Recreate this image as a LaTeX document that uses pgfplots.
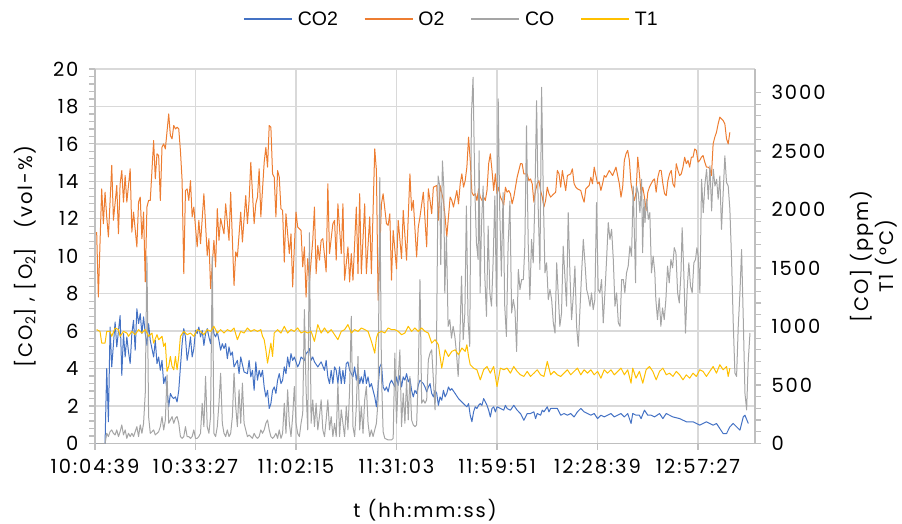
\documentclass[border=0pt]{standalone}
\usepackage{fontspec}
\setmainfont{Poppins}
\newfontfamily\tickfam{Poppins}[LetterSpace=10]
\newfontfamily\legfont{Liberation Sans}
\usepackage{pgfplots}
\pgfplotsset{compat=1.18}
\definecolor{cCOtwo}{HTML}{4472C4}
\definecolor{cOtwo}{HTML}{ED7D31}
\definecolor{cCO}{HTML}{A5A5A5}
\definecolor{cT}{HTML}{FFC000}
\definecolor{cgrid}{HTML}{D9D9D9}
\definecolor{caxis}{HTML}{BFBFBF}
\newcommand\tickfont{\tickfam\fontsize{19.5bp}{25bp}\selectfont}
\pgfplotsset{base/.style={scale only axis, width=660bp, height=374.5bp, xmin=0, xmax=394,
  /pgf/number format/assume math mode=true, /pgf/number format/1000 sep={},
  tick label style={font=\tickfont}, label style={font=\tickfont},
  tick align=outside, major tick length=6bp, minor tick length=6bp,
  tick style={caxis, line width=1.2bp}, minor tick style={caxis, line width=1.2bp},
  axis line style={caxis, line width=1.3bp, -},
  every axis plot/.append style={line width=1bp, no markers, line join=round}}}
\begin{document}
\begin{tikzpicture}
\path[use as bounding box] (-95bp,-80.5bp) rectangle (807bp,443.5bp);
\begin{axis}[base, ymin=0, ymax=20, ytick={0,2,...,20}, minor y tick num=4,
  axis x line*=bottom, axis y line*=left,
  xtick={0,60,...,360}, xticklabels={10:04:39,10:33:27,11:02:15,11:31:03,11:59:51,12:28:39,12:57:27},
  xticklabel style={yshift=-6bp},
  yticklabel style={xshift=-7bp},
  grid=major, major grid style={cgrid, line width=1.3bp},
  ylabel={[CO\textsubscript{2}] , [O\textsubscript{2}]\quad(vol-\%)},
  ylabel style={at={(axis description cs:-0.106,0.5)}, anchor=center},
  xlabel={t (hh:mm:ss)},
  xlabel style={at={(axis description cs:0.5,-0.178)}, anchor=center},
  legend style={font=\legfont\fontsize{19.5bp}{22bp}\selectfont, draw=none, fill=none, legend columns=4,
    at={(0.540,1.133)}, anchor=center,
    /tikz/every odd column/.append style={column sep=3bp},
    /tikz/every even column/.append style={column sep=24bp}},
]
\addlegendimage{legend image code/.code={\draw[draw=cCOtwo, line width=1.6bp] (0bp,0bp) -- (48bp,0bp);}}
\addlegendentry{CO2}
\addlegendimage{legend image code/.code={\draw[draw=cOtwo, line width=1.6bp] (0bp,0bp) -- (48bp,0bp);}}
\addlegendentry{O2}
\addlegendimage{legend image code/.code={\draw[draw=cCO, line width=1.6bp] (0bp,0bp) -- (48bp,0bp);}}
\addlegendentry{CO}
\addlegendimage{legend image code/.code={\draw[draw=cT, line width=1.6bp] (0bp,0bp) -- (48bp,0bp);}}
\addlegendentry{T1}
\addplot[cCOtwo, forget plot] coordinates {(1,0)(3,0)(6,0)(7,4.0)(8,1.16)(9,6.22)(10,4.09)(12,6.49)(13,5.16)(15,6.84)(16,3.64)(17,5.87)(18,4.62)(19,5.69)(20,4.89)(21,4.27)(22,5.87)(23,6.58)(24,4.98)(25,7.2)(26,6.4)(27,6.93)(28,5.87)(29,6.76)(30,5.87)(31,5.24)(32,6.4)(33,5.51)(34,5.07)(35,4.62)(36,5.51)(37,4.27)(38,4.62)(39,3.91)(40,4.44)(41,3.2)(42,3.56)(43,2.84)(44,1.96)(45,2.67)(46,2.49)(47,2.4)(48,2.49)(49,2.22)(50,2.84)(51,4.09)(52,5.33)(53,6.13)(54,5.69)(55,4.44)(56,4.98)(57,5.69)(58,4.62)(59,5.07)(60,6.04)(61,5.87)(62,6.22)(63,5.69)(64,6.04)(65,5.24)(66,5.87)(67,6.13)(68,5.69)(69,5.33)(70,6.4)(71,5.87)(72,5.69)(73,5.96)(74,5.51)(75,4.98)(76,5.33)(77,5.07)(78,5.33)(79,4.53)(80,5.16)(81,4.71)(82,4.89)(83,4.09)(85,4.44)(86,3.73)(87,4.62)(89,3.82)(91,3.73)(92,4.44)(93,3.56)(94,3.91)(95,2.84)(96,4.36)(97,3.38)(98,3.91)(99,3.56)(100,3.91)(101,3.02)(102,2.49)(103,2.84)(104,1.87)(105,2.13)(106,2.84)(107,3.02)(108,2.67)(109,3.38)(110,3.73)(111,3.2)(112,3.38)(113,4.09)(114,3.73)(115,4.62)(116,4.09)(117,4.8)(118,4.44)(119,4.62)(121,4.09)(122,4.27)(123,4.62)(125,4.44)(126,4.8)(127,4.89)(128,5.07)(129,4.44)(130,4.62)(131,4.36)(133,4.09)(135,4.36)(137,3.91)(138,4.44)(139,3.56)(140,3.2)(141,3.91)(142,3.2)(143,4.09)(144,3.91)(145,3.2)(146,4.09)(147,3.2)(148,3.91)(149,3.2)(150,4.27)(151,4.36)(152,3.91)(153,3.73)(154,3.56)(155,4.09)(156,3.38)(157,3.91)(158,3.2)(159,3.56)(160,3.2)(161,3.91)(162,3.2)(163,3.56)(164,3.02)(165,3.2)(166,2.84)(167,2.49)(168,1.96)(169,3.02)(170,4.09)(171,4.27)(172,3.02)(173,2.84)(174,3.02)(175,2.76)(176,3.2)(177,3.38)(179,3.02)(180,3.56)(181,3.11)(182,3.64)(183,3.02)(184,3.56)(185,3.38)(186,3.73)(187,3.29)(188,3.47)(189,2.84)(190,2.49)(191,2.84)(192,2.67)(193,3.11)(194,3.38)(195,3.29)(196,3.2)(197,3.02)(198,2.76)(199,3.02)(200,3.2)(201,2.67)(202,2.49)(203,2.84)(204,2.67)(205,2.04)(206,2.49)(207,2.31)(208,2.84)(209,2.49)(210,2.67)(211,3.02)(212,2.84)(213,2.93)(215,2.67)(217,2.4)(219,2.22)(221,2.04)(222,1.96)(223,2.13)(224,1.51)(225,1.16)(226,1.69)(227,1.96)(228,1.87)(229,2.04)(230,2.13)(231,2.04)(232,2.4)(233,2.22)(234,2.04)(235,1.78)(236,1.42)(237,1.87)(238,1.96)(239,1.69)(240,1.96)(242,1.87)(244,1.78)(245,2.04)(246,1.87)(248,1.78)(250,2.04)(252,1.78)(254,1.6)(256,1.24)(258,1.6)(260,1.6)(262,1.69)(263,1.33)(264,1.6)(266,1.51)(267,1.78)(268,1.69)(270,1.96)(271,1.69)(272,1.87)(274,1.87)(276,1.87)(278,1.51)(280,1.6)(282,1.51)(284,1.6)(286,1.42)(288,1.69)(290,1.87)(292,1.69)(294,1.6)(296,1.51)(298,1.6)(300,1.33)(302,1.51)(304,1.42)(306,1.51)(308,1.6)(310,1.42)(312,1.51)(314,1.6)(316,1.42)(318,1.6)(320,1.07)(321,1.6)(323,1.51)(325,1.51)(326,1.33)(328,1.78)(330,1.51)(332,1.51)(334,1.42)(337,1.6)(339,1.33)(341,1.6)(345,1.42)(349,1.33)(353,1.16)(357,1.16)(361,0.98)(365,1.16)(369,0.98)(371,1.07)(373,0.8)(375,0.53)(377,0.53)(379,0.89)(381,1.07)(383,0.89)(385,0.71)(387,1.42)(388,1.51)(390,1.07)};
\addplot[cOtwo, forget plot] coordinates {(1,11.29)(2,7.82)(4,13.6)(5,11.74)(6,13.42)(7,12.1)(8,11.03)(10,14.85)(11,11.92)(13,13.78)(14,11.2)(15,13.87)(16,14.58)(17,12.89)(18,14.31)(19,12.89)(21,14.67)(22,11.29)(23,12.36)(25,10.5)(26,12.89)(27,13.16)(28,10.94)(29,12.36)(30,8.63)(31,12.63)(32,12.98)(33,12.98)(35,16.18)(36,14.13)(37,15.47)(38,15.38)(39,12.98)(40,15.82)(41,16.0)(42,15.73)(44,17.6)(45,16.44)(46,16.27)(47,16.98)(48,16.8)(49,16.89)(50,16.8)(51,15.64)(52,14.04)(53,9.07)(54,13.51)(55,13.6)(56,12.98)(57,14.04)(58,12.1)(59,12.63)(61,10.5)(62,11.92)(63,10.67)(65,13.34)(67,10.05)(68,10.94)(69,8.27)(71,10.85)(72,9.43)(73,12.54)(74,10.85)(75,12.01)(77,11.2)(78,12.8)(80,10.85)(81,13.42)(83,8.44)(84,10.23)(85,9.96)(87,12.36)(88,10.76)(90,13.24)(91,11.74)(92,12.98)(93,15.02)(95,11.74)(96,12.8)(97,13.16)(98,14.67)(99,12.1)(101,15.02)(102,15.82)(103,14.76)(104,16.98)(105,16.89)(106,14.4)(107,14.22)(108,12.1)(109,14.58)(110,14.22)(111,12.54)(112,12.45)(113,9.69)(114,12.27)(116,10.14)(117,11.2)(118,8.36)(119,10.5)(120,12.36)(121,11.56)(123,11.38)(124,9.43)(125,10.5)(126,7.82)(127,9.87)(128,8.63)(130,10.85)(131,12.63)(132,9.07)(133,10.58)(134,9.79)(135,10.85)(136,10.94)(138,9.16)(139,13.87)(140,10.14)(142,11.74)(143,11.92)(144,9.79)(145,12.8)(147,10.14)(148,12.8)(149,8.72)(151,10.5)(152,8.63)(153,10.14)(154,8.72)(156,12.63)(157,9.07)(158,13.34)(159,9.07)(161,12.8)(162,9.07)(164,12.1)(165,9.07)(167,15.73)(168,14.58)(169,7.65)(171,12.8)(172,13.34)(174,11.74)(175,11.65)(176,12.27)(177,8.72)(178,11.38)(180,9.33)(181,11.92)(183,9.87)(184,12.45)(186,9.79)(188,14.4)(189,12.45)(190,12.98)(192,9.96)(193,11.56)(194,12.1)(196,13.42)(198,10.5)(199,13.6)(200,12.98)(201,12.27)(202,13.69)(204,13.78)(205,11.92)(206,13.78)(208,12.98)(209,12.1)(210,11.03)(212,13.16)(213,12.98)(214,12.63)(216,13.51)(217,12.8)(218,13.87)(219,14.4)(220,13.69)(221,14.04)(222,14.76)(223,16.36)(224,15.12)(225,13.42)(226,13.24)(227,13.34)(228,12.98)(229,13.6)(230,13.16)(231,12.98)(232,13.16)(233,12.98)(234,13.51)(235,14.94)(236,15.47)(237,14.58)(238,13.51)(239,14.4)(240,13.34)(241,13.69)(242,13.16)(243,12.98)(244,12.72)(245,13.69)(246,13.42)(247,13.51)(248,13.34)(249,12.8)(250,13.16)(252,14.22)(254,14.94)(255,14.94)(256,14.4)(258,14.4)(259,14.04)(260,14.13)(261,13.87)(262,12.89)(263,13.51)(264,13.87)(265,14.04)(266,13.51)(267,13.16)(268,12.63)(269,12.98)(270,13.69)(271,13.34)(272,13.16)(274,13.34)(275,13.42)(276,14.58)(277,14.4)(278,13.69)(279,14.58)(280,14.04)(281,13.51)(282,14.31)(284,14.4)(285,14.67)(286,13.87)(287,13.69)(288,13.6)(290,13.51)(291,13.16)(292,12.89)(293,13.6)(294,13.69)(295,13.78)(296,14.22)(297,13.87)(298,14.76)(299,14.31)(300,13.87)(301,13.96)(302,13.51)(303,13.87)(304,14.31)(305,14.22)(307,14.58)(309,14.31)(311,14.76)(313,13.87)(314,13.16)(315,13.69)(316,15.12)(317,15.47)(318,15.65)(319,15.12)(320,13.87)(321,13.34)(322,12.98)(323,13.42)(324,15.29)(325,14.4)(326,13.34)(327,13.69)(328,13.16)(329,12.45)(330,13.42)(331,13.69)(332,13.87)(333,14.04)(334,14.13)(335,13.42)(336,14.22)(337,14.58)(338,14.58)(339,13.87)(340,13.34)(341,13.24)(342,14.04)(343,14.4)(344,14.58)(345,13.87)(346,13.69)(347,14.94)(348,14.58)(349,14.31)(350,14.4)(351,14.76)(352,15.29)(353,14.94)(354,15.12)(355,14.76)(356,15.29)(357,15.29)(358,15.73)(359,15.65)(360,15.03)(361,15.12)(362,15.29)(363,15.38)(364,15.03)(365,14.76)(366,14.76)(367,14.67)(368,14.31)(369,16.0)(370,16.36)(371,16.62)(372,17.07)(373,17.43)(374,17.34)(375,17.25)(376,17.07)(377,16.27)(378,16.0)(379,16.62)};
\end{axis}
\begin{axis}[base, ymin=0, ymax=3200, ytick={0,500,...,3000}, minor y tick num=4,
  axis y line*=right, axis x line=none,
  yticklabel style={xshift=7bp},
  ylabel={[CO] (ppm)\\T1 (°C)},
  ylabel style={align=center, at={(axis description cs:1.18,0.5)}, anchor=center},
]
\addplot[cCO] coordinates {(1,0)(6,0)(7,87)(8,59)(9,101)(10,116)(11,87)(12,73)(13,116)(14,59)(15,101)(16,159)(17,73)(18,116)(19,44)(20,87)(21,59)(22,87)(23,59)(24,101)(25,144)(26,59)(27,159)(28,87)(29,173)(30,430)(31,1600)(32,230)(33,87)(34,100)(35,116)(36,73)(37,87)(38,101)(39,144)(40,230)(41,116)(42,201)(43,586)(44,173)(45,201)(46,230)(47,173)(48,216)(49,230)(50,173)(51,59)(52,44)(53,59)(54,144)(55,59)(56,59)(57,44)(58,59)(59,116)(60,44)(61,44)(62,59)(63,87)(64,344)(65,144)(66,573)(67,144)(68,87)(69,230)(70,1600)(71,87)(72,59)(73,144)(74,344)(75,601)(76,173)(77,87)(78,59)(79,116)(80,59)(81,87)(82,230)(83,601)(84,316)(85,144)(86,459)(87,173)(88,516)(89,173)(90,116)(91,59)(92,73)(93,59)(94,44)(95,87)(96,59)(97,44)(98,59)(99,116)(100,87)(101,116)(102,173)(103,201)(104,116)(105,59)(106,44)(107,59)(108,87)(109,44)(110,116)(111,44)(112,87)(113,344)(114,87)(115,459)(116,173)(117,59)(118,230)(119,487)(120,173)(121,87)(122,59)(123,173)(124,258)(125,1144)(126,459)(127,116)(128,1801)(129,173)(130,373)(131,144)(132,344)(133,116)(134,230)(135,373)(136,116)(137,59)(138,201)(139,373)(140,116)(141,230)(142,59)(143,173)(144,59)(145,516)(146,59)(147,287)(148,173)(149,59)(150,316)(151,116)(152,459)(153,1087)(154,144)(155,59)(156,316)(157,744)(158,116)(159,316)(160,87)(161,373)(162,487)(163,173)(164,59)(165,116)(166,59)(167,116)(168,173)(169,373)(170,2272)(171,600)(172,100)(173,44)(175,30)(177,30)(178,44)(179,773)(180,173)(181,544)(182,800)(183,144)(184,430)(185,173)(186,544)(187,201)(188,573)(189,201)(190,159)(191,144)(192,159)(193,601)(194,1400)(195,344)(196,373)(197,344)(198,373)(199,715)(200,772)(201,801)(202,544)(203,287)(203.8,715)(204.8,2286)(205.8,2200)(206.4,1529)(207.4,2415)(208.2,2200)(208.8,1287)(209.8,1773)(210.8,1001)(211.8,1058)(212.8,901)(213.8,1001)(214.8,915)(215.8,772)(216.8,573)(217.8,887)(218.8,1430)(219.8,887)(220.8,1115)(221.7,2030)(222.7,1058)(223.7,830)(224.7,2800)(225.7,3130)(226.7,2200)(227.7,1716)(228.7,1573)(229.3,2501)(229.9,1287)(230.7,1858)(231.7,2200)(232.7,1430)(233.7,1087)(234.7,1858)(235.7,1287)(236.7,1173)(237.7,1573)(238.7,2115)(239.7,1173)(240.7,2944)(241.6,2001)(242.6,1430)(243.6,2144)(244.6,1173)(245.6,915)(246.6,1687)(247.7,2072)(248.7,1115)(249.7,1230)(250.7,1144)(251.7,786)(252.7,1487)(253.7,1316)(254.7,1401)(255.7,1401)(256.6,1687)(257.6,2715)(258.6,1716)(259.6,1230)(260.6,1744)(261.6,1544)(262.6,2087)(263.6,2929)(264.6,2001)(265.6,1487)(266.6,3044)(267.6,2144)(268.6,1458)(269.6,1544)(270.6,1230)(271.6,1316)(272.6,1230)(273.6,1030)(274.6,944)(275.6,1544)(276.5,1287)(277.5,1001)(278.5,1115)(279.5,1687)(280.5,1430)(281.5,1173)(282.5,1973)(283.5,1458)(284.5,1058)(285.5,1258)(286.5,1516)(287.5,1001)(288.5,830)(289.5,1144)(290.5,1458)(291.5,1744)(292.5,1544)(293.5,1316)(294.5,1258)(295.5,1173)(296.4,1287)(297.4,1144)(298.4,1230)(299.4,2058)(300.4,1316)(301.4,1287)(302.4,1401)(303.4,1030)(304.4,1287)(305.4,1573)(306.4,1887)(307.4,1744)(308.4,1830)(309.4,1573)(310.4,1173)(311.4,1287)(312.4,1030)(313.4,1001)(314.4,1401)(315.4,1401)(316.3,1287)(317.3,1458)(318.3,1516)(319.3,1687)(320.3,1601)(321.3,2200)(322.7,1373)(323.3,2200)(324.3,2144)(325.3,1973)(326.3,2258)(326.9,1630)(327.7,2087)(328.3,1887)(329.3,2087)(330.3,1916)(331.2,1973)(332.2,1458)(333.2,1601)(334.2,1458)(334.8,1230)(335.8,1058)(336.8,1244)(337.8,1001)(338.8,1158)(339.8,1058)(340.8,1230)(341.8,1516)(342.8,1373)(343.8,1573)(344.8,1501)(345.8,1673)(346.8,1630)(347.8,1287)(348.8,1201)(349.8,1458)(350.5,1844)(351.5,1458)(352.5,944)(353.5,1316)(354.5,1544)(355.5,1344)(356.5,1287)(357.5,1544)(358.5,1573)(359.3,1673)(360.1,1601)(361.1,1287)(362.1,2258)(363.1,1973)(364.1,2215)(365.1,2343)(366.1,2087)(367.1,2372)(368.1,1987)(369.1,2343)(370.1,2200)(371.1,2258)(372,2087)(373,2286)(374,1830)(375,2144)(376,2458)(377,2230)(378,2200)(379,2001)(380,1573)(381,1030)(382,601)(383,573)(384,1001)(385,1287)(386,1658)(387,1058)(388,430)(389,287)(390,715)(391,944)};
\addplot[cT] coordinates {(1,973)(3,958)(4,858)(6,858)(7,958)(9,958)(10,916)(12,987)(14,973)(15,916)(17,958)(19,944)(20,916)(22,958)(24,930)(26,973)(28,944)(30,973)(32,916)(34,944)(35,858)(37,930)(38,887)(40,916)(41,830)(42,858)(43,616)(44,658)(45,744)(46,658)(47,630)(48,744)(49,630)(50,744)(51,916)(53,958)(55,930)(57,944)(59,916)(61,973)(63,958)(65,930)(67,973)(69,958)(71,1001)(73,944)(75,973)(77,944)(79,973)(81,958)(83,987)(85,887)(87,958)(89,944)(91,987)(93,958)(95,973)(97,958)(99,973)(100,916)(101,887)(102,801)(103,687)(104,773)(105,858)(106,744)(107,944)(109,973)(111,944)(113,1001)(115,944)(117,973)(119,958)(121,987)(123,944)(125,958)(127,944)(129,958)(131,873)(133,1016)(135,944)(137,987)(139,944)(141,973)(143,930)(145,887)(147,958)(149,973)(151,1016)(153,944)(155,973)(157,958)(159,987)(161,973)(163,958)(165,873)(167,773)(168,901)(169,944)(171,958)(173,944)(175,987)(177,973)(179,973)(181,958)(183,930)(185,944)(187,1001)(189,958)(191,987)(193,958)(195,987)(197,958)(199,944)(201,858)(203,887)(205,844)(207,644)(209,801)(211,744)(213,787)(215,801)(217,758)(219,816)(221,787)(222,844)(223,744)(224,673)(226,644)(228,630)(230,544)(232,630)(234,658)(236,601)(238,658)(240,487)(242,644)(244,630)(246,644)(248,601)(250,658)(252,616)(254,587)(256,573)(258,616)(260,573)(262,601)(264,630)(266,587)(268,573)(270,701)(272,587)(274,616)(276,587)(278,573)(280,601)(282,630)(284,587)(286,616)(288,644)(290,587)(292,630)(294,601)(296,630)(298,587)(300,616)(302,558)(304,630)(306,601)(308,630)(310,587)(312,616)(314,644)(316,587)(318,630)(320,515)(321,644)(323,558)(325,616)(327,515)(329,630)(331,658)(333,616)(335,544)(337,616)(339,644)(341,587)(343,601)(345,573)(347,616)(349,587)(351,544)(353,587)(355,558)(357,601)(359,573)(361,630)(363,616)(365,573)(367,616)(369,658)(371,601)(373,673)(375,630)(377,658)(378,573)(379,644)};
\end{axis}
\end{tikzpicture}
\end{document}
